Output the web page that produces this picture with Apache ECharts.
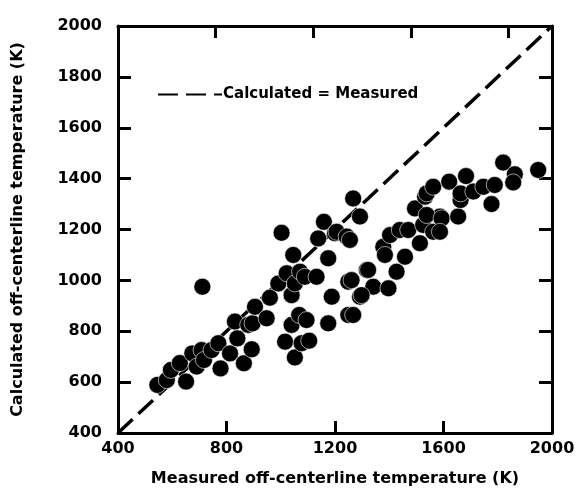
<!DOCTYPE html>
<html>
<head>
<meta charset="utf-8">
<script src="https://cdn.jsdelivr.net/npm/echarts@6/dist/echarts.min.js"></script>
<style>
  html, body { margin: 0; padding: 0; background: #fff; }
  #chart { width: 585px; height: 503px; }
</style>
</head>
<body>
<div id="chart"></div>
<script>
// measured vs calculated off-centerline temperatures (K)
var measured = [545, 580, 595, 628, 651, 674, 690, 708, 717, 711, 745, 770, 778, 813, 831, 840, 864, 880, 893, 896,
  905, 948, 960, 991, 1003, 1022, 1040, 1046, 1052, 1040, 1016, 1068, 1052, 1077, 1095, 1105, 1071, 1089, 1132, 1138,
  1159, 1175, 1188, 1175, 1200, 1206, 1243, 1267, 1249, 1249, 1267, 1255, 1292, 1317, 1292, 1341, 1397, 1378, 1384, 1403,
  1427, 1458, 1439, 1470, 1495, 1513, 1525, 1532, 1538, 1562, 1562, 1587, 1538, 1593, 1587, 1621, 1654, 1663, 1663, 1683,
  1710, 1747, 1777, 1789, 1820, 1863, 1857, 1949, 1322, 1261, 1298];
var calculated = [589, 608, 648, 675, 602, 713, 661, 726, 687, 975, 726, 753, 654, 713, 838, 772, 674, 825, 729, 831,
  896, 851, 932, 988, 1187, 1028, 942, 1100, 988, 825, 759, 864, 697, 753, 844, 763, 1034, 1014, 1014, 1165,
  1230, 1087, 936, 831, 1185, 1191, 1172, 1322, 995, 864, 864, 1159, 1251, 1041, 936, 975, 969, 1132, 1100, 1178,
  1034, 1093, 1198, 1198, 1283, 1146, 1218, 1329, 1342, 1368, 1191, 1251, 1257, 1244, 1191, 1388, 1251, 1316, 1342, 1410,
  1349, 1368, 1300, 1375, 1463, 1417, 1385, 1434, 1041, 1001, 942];
var xTicks = [400, 800, 1200, 1600, 2000];
var yTicks = [400, 600, 800, 1000, 1200, 1400, 1600, 1800, 2000];
var idealLine = [[400, 400], [2000, 2000]];
// top-edge ticks sit at 700, 1060, 1420 K; the top axis is shifted by 20 K so they land on multiples of 360
var topMin = 420, topMax = 2020, topStep = 360;

var pts = [];
for (var i = 0; i < measured.length; i++) {
  pts.push([measured[i], calculated[i]]);
}

var boldFont = { fontFamily: 'DejaVu Sans', fontWeight: 'bold', fontSize: 16, color: '#000' };
var plain = function (v) { return String(v); };

var myChart = echarts.init(document.getElementById('chart'));
myChart.setOption({
  animation: false,
  grid: { left: 118, right: 33, top: 26, bottom: 70 },
  legend: {
    left: 152, top: 82,
    itemWidth: 64, itemHeight: 14, itemGap: 0,
    itemStyle: { opacity: 0 },
    textStyle: { fontFamily: 'DejaVu Sans', fontWeight: 'bold', fontSize: 15, color: '#000', padding: [0, 0, 0, -4] },
    data: ['Calculated = Measured']
  },
  xAxis: [{
    type: 'value', min: 400, max: 2000, interval: 400,
    name: 'Measured off-centerline temperature (K)',
    nameLocation: 'middle', nameGap: 38,
    nameTextStyle: boldFont,
    axisLine: { lineStyle: { color: '#000', width: 3 } },
    axisTick: { inside: true, length: 12, lineStyle: { width: 3, color: '#000' } },
    axisLabel: Object.assign({ margin: 8, formatter: plain }, boldFont),
    splitLine: { show: false }
  }, {
    type: 'value', min: topMin, max: topMax, interval: topStep, position: 'top',
    axisLine: { show: true, onZero: false, lineStyle: { color: '#000', width: 3 } },
    axisTick: { show: true, inside: true, length: 12, lineStyle: { width: 3, color: '#000' } },
    axisLabel: { show: false },
    splitLine: { show: false }
  }],
  yAxis: [{
    type: 'value', min: 400, max: 2000, interval: 200,
    name: 'Calculated off-centerline temperature (K)',
    nameLocation: 'middle', nameGap: 92,
    nameTextStyle: boldFont,
    axisLine: { lineStyle: { color: '#000', width: 3 } },
    axisTick: { inside: true, length: 13, lineStyle: { width: 3, color: '#000' } },
    axisLabel: Object.assign({ margin: 16, formatter: plain }, boldFont),
    splitLine: { show: false }
  }, {
    type: 'value', min: 400, max: 2000, interval: 200, position: 'right',
    axisLine: { show: true, onZero: false, lineStyle: { color: '#000', width: 3 } },
    axisTick: { show: true, inside: true, length: 13, lineStyle: { width: 3, color: '#000' } },
    axisLabel: { show: false },
    splitLine: { show: false }
  }],
  series: [{
    name: 'Calculated = Measured',
    type: 'line',
    data: idealLine,
    symbol: 'none',
    lineStyle: { color: '#000', width: 3.5, type: [20, 8] },
    z: 1
  }, {
    name: 'data',
    type: 'scatter',
    data: pts,
    symbol: 'circle',
    symbolSize: 17,
    itemStyle: { color: '#000', borderColor: '#fff', borderWidth: 0.6, opacity: 1 },
    z: 2
  }]
});
</script>
</body>
</html>
